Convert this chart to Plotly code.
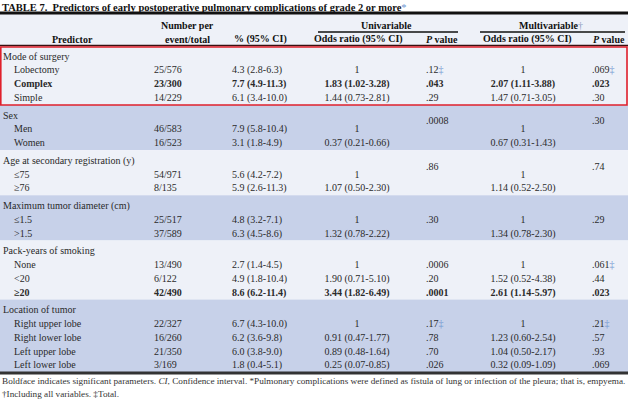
import plotly.graph_objects as go

# ---- table data ----
groups = [
    "Mode of surgery",
    "Sex",
    "Age at secondary registration (y)",
    "Maximum tumor diameter (cm)",
    "Pack-years of smoking",
    "Location of tumor",
]
group_sizes = [3, 2, 2, 2, 3, 4]
predictors = [
    "Lobectomy", "Complex", "Simple",
    "Men", "Women",
    "≤75", "≥76",
    "≤1.5", ">1.5",
    "None", "<20", "≥20",
    "Right upper lobe", "Right lower lobe", "Left upper lobe", "Left lower lobe",
]
event_total = [
    "25/576", "23/300", "14/229",
    "46/583", "16/523",
    "54/971", "8/135",
    "25/517", "37/589",
    "13/490", "6/122", "42/490",
    "22/327", "16/260", "21/350", "3/169",
]
pct_ci = [
    "4.3 (2.8-6.3)", "7.7 (4.9-11.3)", "6.1 (3.4-10.0)",
    "7.9 (5.8-10.4)", "3.1 (1.8-4.9)",
    "5.6 (4.2-7.2)", "5.9 (2.6-11.3)",
    "4.8 (3.2-7.1)", "6.3 (4.5-8.6)",
    "2.7 (1.4-4.5)", "4.9 (1.8-10.4)", "8.6 (6.2-11.4)",
    "6.7 (4.3-10.0)", "6.2 (3.6-9.8)", "6.0 (3.8-9.0)", "1.8 (0.4-5.1)",
]
uni_or = [
    "1", "1.83 (1.02-3.28)", "1.44 (0.73-2.81)",
    "1", "0.37 (0.21-0.66)",
    "1", "1.07 (0.50-2.30)",
    "1", "1.32 (0.78-2.22)",
    "1", "1.90 (0.71-5.10)", "3.44 (1.82-6.49)",
    "1", "0.91 (0.47-1.77)", "0.89 (0.48-1.64)", "0.25 (0.07-0.85)",
]
uni_p = [
    ".12‡", ".043", ".29",
    ".0008", "",
    ".86", "",
    ".30", "",
    ".0006", ".20", ".0001",
    ".17‡", ".78", ".70", ".026",
]
multi_or = [
    "1", "2.07 (1.11-3.88)", "1.47 (0.71-3.05)",
    "1", "0.67 (0.31-1.43)",
    "1", "1.14 (0.52-2.50)",
    "1", "1.34 (0.78-2.30)",
    "1", "1.52 (0.52-4.38)", "2.61 (1.14-5.97)",
    "1", "1.23 (0.60-2.54)", "1.04 (0.50-2.17)", "0.32 (0.09-1.09)",
]
multi_p = [
    ".069‡", ".023", ".30",
    ".30", "",
    ".74", "",
    ".29", "",
    ".061‡", ".44", ".023",
    ".21‡", ".57", ".93", ".069",
]
bold_rows = {"Complex", "≥20"}
raised_p_groups = {"Sex", "Age at secondary registration (y)"}

title = "TABLE 7.  Predictors of early postoperative pulmonary complications of grade 2 or more"
footnote = [
    "Boldface indicates significant parameters. <i>CI</i>, Confidence interval. "
    "*Pulmonary complications were defined as fistula of lung or infection of the pleura; that is, empyema.",
    "†Including all variables. ‡Total.",
]

# ---- layout constants ----
FONT = "Liberation Serif"
TXT = "#2a2a2a"
BLUE_BAND = "#c7d1e9"
LIGHT_BAND = "#eef1f8"
MARK = "#6f96d0"
ROW0, PITCH, GAP = 57.0, 13.85, 3.6
RIGHT = 628


def row_y(k, g):
    return ROW0 + PITCH * k + GAP * g


def mark(s):
    return s.replace("‡", f"<span style='color:{MARK}'>‡</span>")


# positions of every text row
group_y, item_y, item_group = [], [], []
k = 0
for g, (name, n) in enumerate(zip(groups, group_sizes)):
    group_y.append(row_y(k, g))
    k += 1
    for _ in range(n):
        item_y.append(row_y(k, g))
        item_group.append(name)
        k += 1

p_y = []
seen = set()
for y, grp in zip(item_y, item_group):
    if grp in raised_p_groups and grp not in seen:
        p_y.append(y - 8)
    else:
        p_y.append(y)
    seen.add(grp)


def fmt(vals, wrap=None):
    out = []
    for v, pred in zip(vals, predictors):
        v = wrap(v) if wrap else v
        out.append(f"<b>{v}</b>" if pred in bold_rows else v)
    return out


fig = go.Figure()

# background bands + rules
shapes = []
shapes.append(dict(type="rect", x0=0, x1=RIGHT, y0=14, y1=46, fillcolor=LIGHT_BAND, line_width=0, layer="below"))
tops = [gy - 11 for gy in group_y] + [372]
for g in range(len(groups)):
    shapes.append(dict(type="rect", x0=0, x1=RIGHT, y0=tops[g], y1=tops[g + 1],
                       fillcolor=BLUE_BAND if g % 2 else LIGHT_BAND, line_width=0, layer="below"))
shapes += [
    dict(type="line", x0=0, x1=RIGHT, y0=13, y1=13, line=dict(color="#111", width=3)),
    dict(type="line", x0=318, x1=458, y0=32, y1=32, line=dict(color="#111", width=1.5)),
    dict(type="line", x0=480, x1=625, y0=32, y1=32, line=dict(color="#111", width=1.5)),
    dict(type="line", x0=0, x1=RIGHT, y0=45.5, y1=45.5, line=dict(color="#3a1010", width=1.5)),
    dict(type="line", x0=0, x1=RIGHT, y0=373, y1=373, line=dict(color="#333", width=3)),
    dict(type="rect", x0=0.8, x1=627, y0=tops[0] + 1, y1=tops[1], line=dict(color="#e0202c", width=1.6)),
]

tf = dict(family=FONT, size=10, color=TXT)


def col(x, y, text, pos):
    fig.add_trace(go.Scatter(x=[x] * len(y), y=y, text=text, mode="text", textposition=pos,
                             textfont=tf, hoverinfo="skip", showlegend=False, cliponaxis=False))


col(3, group_y, groups, "middle right")
col(14, item_y, fmt(predictors), "middle right")
col(154, item_y, fmt(event_total), "middle right")
col(232, item_y, fmt(pct_ci), "middle right")
col(357, item_y, fmt(uni_or), "middle center")
col(426, p_y, fmt(uni_p, mark), "middle right")
col(523, item_y, fmt(multi_or), "middle center")
col(592, p_y, fmt(multi_p, mark), "middle right")

hf = dict(family=FONT, size=10, color="#111")
annotations = [
    dict(x=0, y=7, text=f"<b>{title}</b><span style='color:{MARK}'>*</span>", xanchor="left",
         font=dict(family=FONT, size=10.5, color="#111")),
    dict(x=72, y=39, text="<b>Predictor</b>", xanchor="center", font=hf),
    dict(x=187, y=25, text="<b>Number per</b>", xanchor="center", font=hf),
    dict(x=187, y=39, text="<b>event/total</b>", xanchor="center", font=hf),
    dict(x=232, y=39, text="<b>% (95% CI)</b>", xanchor="left", font=hf),
    dict(x=386, y=25, text="<b>Univariable</b>", xanchor="center", font=hf),
    dict(x=358, y=39, text="<b>Odds ratio (95% CI)</b>", xanchor="center", font=hf),
    dict(x=424, y=39, text="<b><i>P</i> value</b>", xanchor="left", font=hf),
    dict(x=551, y=25, text="<b>Multivariable</b><span style='color:#8a9cc0'>†</span>", xanchor="center", font=hf),
    dict(x=527, y=39, text="<b>Odds ratio (95% CI)</b>", xanchor="center", font=hf),
    dict(x=591, y=39, text="<b><i>P</i> value</b>", xanchor="left", font=hf),
]
for i, line in enumerate(footnote):
    annotations.append(dict(x=0, y=381 + 13 * i, text=line, xanchor="left",
                            font=dict(family=FONT, size=9.2, color="#333")))
for a in annotations:
    a.update(xref="x", yref="y", yanchor="middle", showarrow=False)

fig.update_layout(
    width=640, height=404,
    margin=dict(l=0, r=0, t=0, b=0),
    paper_bgcolor="white", plot_bgcolor="white",
    xaxis=dict(range=[0, 640], visible=False, fixedrange=True),
    yaxis=dict(range=[404, 0], visible=False, fixedrange=True),
    shapes=shapes, annotations=annotations,
)

# the page's default body margin would shift the figure; remove it
fig.write_html("out.html", config={"displayModeBar": False},
               post_script="document.body.style.margin='0';")
